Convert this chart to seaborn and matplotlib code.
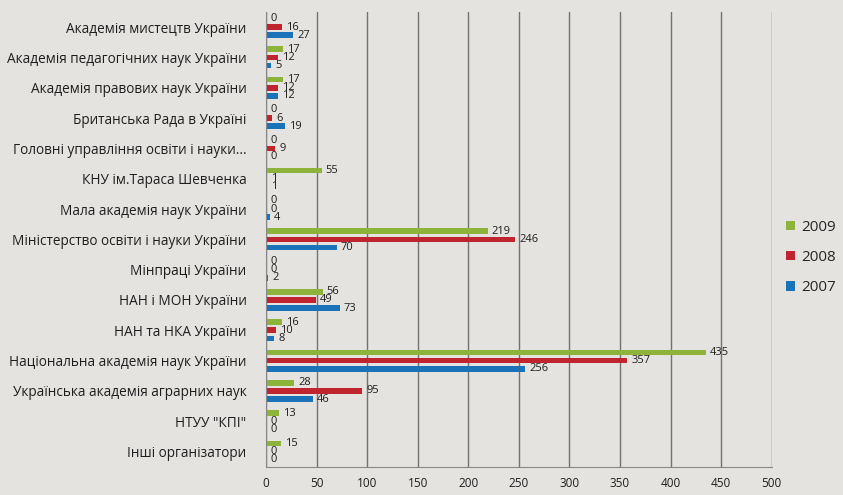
import numpy as np
import pandas as pd
import matplotlib.pyplot as plt
import seaborn as sns

# organizers of events, top to bottom as in the chart
organizers = [
    'Академія мистецтв України',
    'Академія педагогічних наук України',
    'Академія правових наук України',
    'Британська Рада в Україні',
    'Головні управління освіти і науки...',
    'КНУ ім.Тараса Шевченка',
    'Мала академія наук України',
    'Міністерство освіти і науки України',
    'Мінпраці України',
    'НАН і МОН України',
    'НАН та НКА України',
    'Національна академія наук України',
    'Українська академія аграрних наук',
    'НТУУ "КПІ"',
    'Інші організатори',
]
years = ['2009', '2008', '2007']
v2009 = [0, 17, 17, 0, 0, 55, 0, 219, 0, 56, 16, 435, 28, 13, 15]
v2008 = [16, 12, 12, 6, 9, 1, 0, 246, 0, 49, 10, 357, 95, 0, 0]
v2007 = [27, 5, 12, 19, 0, 1, 4, 70, 2, 73, 8, 256, 46, 0, 0]
x_ticks = [0, 50, 100, 150, 200, 250, 300, 350, 400, 450, 500]

df = pd.DataFrame({
    'org': organizers * 3,
    'year': ['2009'] * 15 + ['2008'] * 15 + ['2007'] * 15,
    'count': v2009 + v2008 + v2007,
})

bg = '#e5e3e0'
colors = {'2009': '#8db33a', '2008': '#c0242f', '2007': '#1a72b8'}

sns.set_style('white')
plt.rcParams['font.family'] = ['Open Sans', 'DejaVu Sans']

fig = plt.figure(figsize=(8.43, 4.95), dpi=100, facecolor=bg)
ax = fig.add_axes([0.3155, 0.057, 0.6, 0.919])
ax.set_facecolor(bg)

sns.barplot(data=df, x='count', y='org', hue='year', hue_order=years,
            palette=colors, orient='h', width=0.8, gap=0.3,
            saturation=1, linewidth=0, ax=ax)

for c in ax.containers:
    ax.bar_label(c, padding=3, fontsize=8, color='#1e1e1e')

ax.set_xlim(0, 500)
ax.set_xticks(x_ticks)
ax.set_xlabel('')
ax.set_ylabel('')
ax.tick_params(axis='x', labelsize=8.5, length=4, color='#777777',
               direction='out', labelcolor='#1e1e1e')
ax.tick_params(axis='y', labelsize=9.8, length=0, pad=14, labelcolor='#1e1e1e')
ax.set_yticks(np.arange(-0.5, 15, 1), minor=True)
ax.tick_params(axis='y', which='minor', length=4, color='#777777')
ax.grid(axis='x', color='#727272', linewidth=1.0)
ax.set_axisbelow(True)
for s in ['top', 'right']:
    ax.spines[s].set_visible(False)
for s in ['left', 'bottom']:
    ax.spines[s].set_color('#888888')

ax.legend(loc='center left', bbox_to_anchor=(1.0, 0.46), frameon=False,
          handlelength=0.6, handleheight=0.6, fontsize=11, labelspacing=1.0,
          handletextpad=0.4)

fig.savefig('out.png', dpi=100, facecolor=bg)
